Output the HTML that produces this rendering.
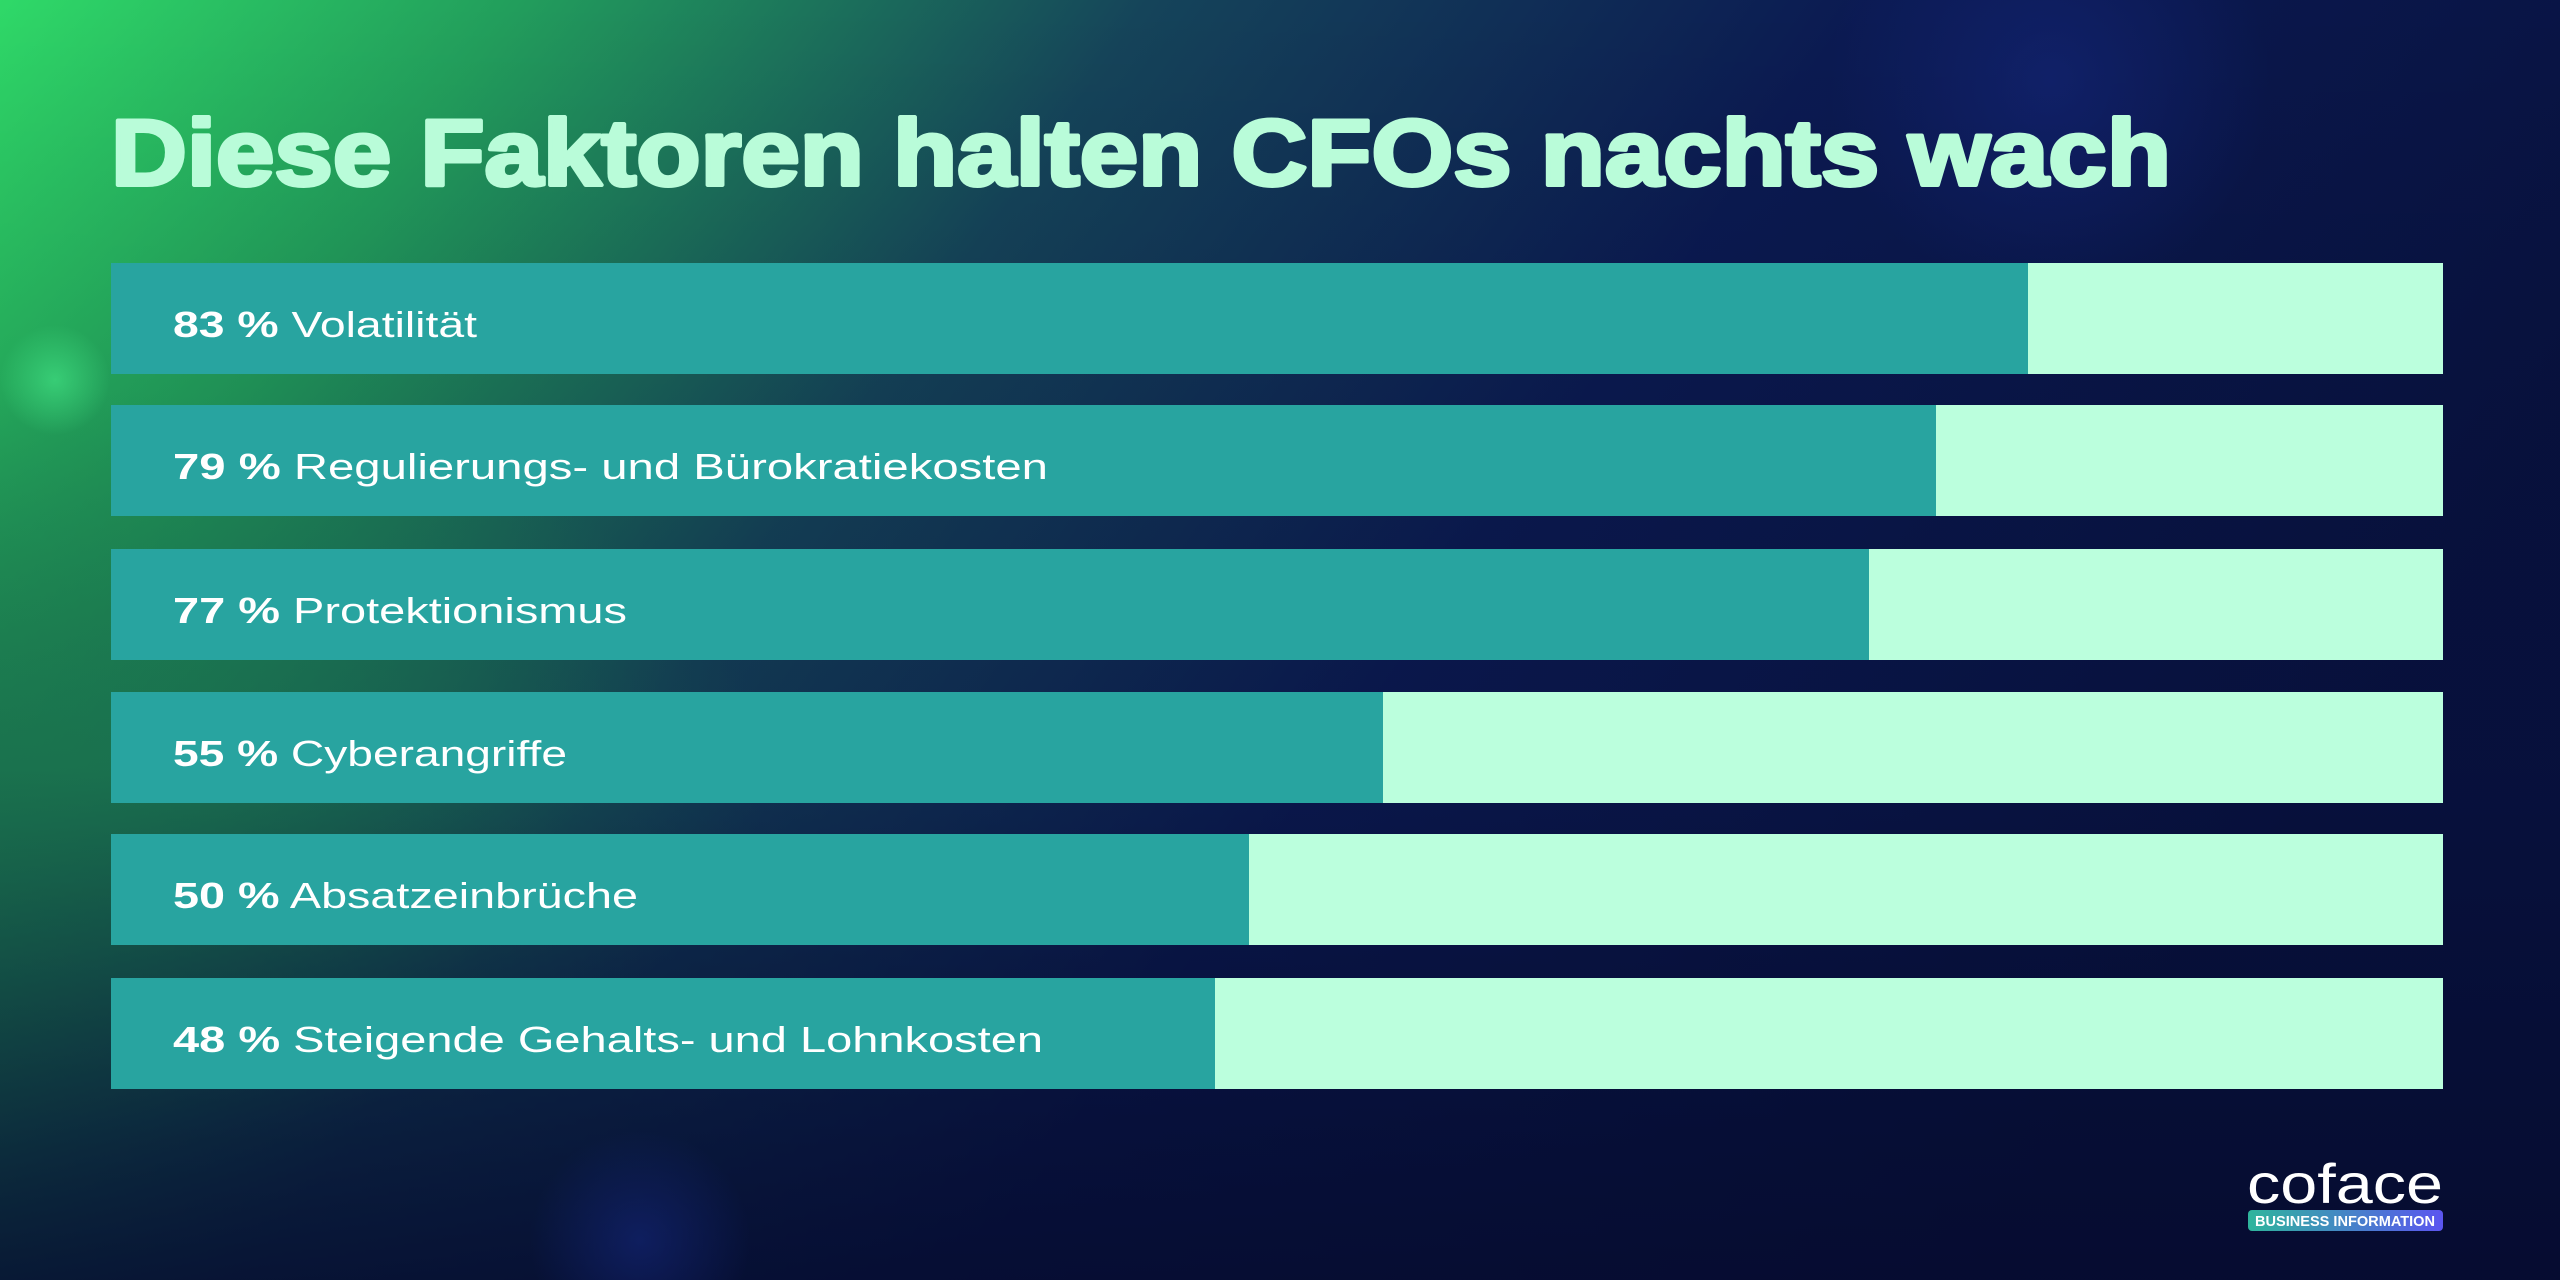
<!DOCTYPE html>
<html><head><meta charset="utf-8"><style>
html,body{margin:0;padding:0;width:2560px;height:1280px;overflow:hidden;background:#0a1440}
svg{display:block;position:absolute;left:0;top:0}
</style></head><body>
<svg width="2560" height="1280" viewBox="0 0 2560 1280" xmlns="http://www.w3.org/2000/svg">
<defs>
<linearGradient id="bg" x1="0" y1="0" x2="1" y2="0.35">
<stop offset="0" stop-color="#2fd968"/>
<stop offset="0.18" stop-color="#229e5c"/>
<stop offset="0.4" stop-color="#15445a"/>
<stop offset="0.65" stop-color="#0b1a52"/>
<stop offset="1" stop-color="#081240"/>
</linearGradient>
<linearGradient id="vb" x1="0" y1="0" x2="0" y2="1">
<stop offset="0" stop-color="#000" stop-opacity="0"/>
<stop offset="0.6" stop-color="#050b2e" stop-opacity="0.2"/>
<stop offset="1" stop-color="#050b2e" stop-opacity="0.85"/>
</linearGradient>
<radialGradient id="gl" cx="0" cy="0.6" r="0.3">
<stop offset="0" stop-color="#1f8a55" stop-opacity="0.9"/>
<stop offset="1" stop-color="#1f8a55" stop-opacity="0"/>
</radialGradient>
<radialGradient id="bl" cx="0.5" cy="0.5" r="0.5">
<stop offset="0" stop-color="#14267a" stop-opacity="0.6"/>
<stop offset="1" stop-color="#14267a" stop-opacity="0"/>
</radialGradient>
<radialGradient id="gc" cx="0.5" cy="0.5" r="0.5">
<stop offset="0" stop-color="#45e888" stop-opacity="0.6"/>
<stop offset="1" stop-color="#45e888" stop-opacity="0"/>
</radialGradient>
<linearGradient id="badge" x1="0" y1="0" x2="1" y2="0">
<stop offset="0" stop-color="#2fb59c"/>
<stop offset="1" stop-color="#5b55f0"/>
</linearGradient>
</defs>
<rect width="2560" height="1280" fill="url(#bg)"/>
<rect width="2560" height="1280" fill="url(#gl)"/>
<rect width="2560" height="1280" fill="url(#vb)"/>
<circle cx="2050" cy="80" r="220" fill="url(#bl)"/>
<circle cx="640" cy="1240" r="110" fill="url(#bl)"/>
<circle cx="55" cy="380" r="55" fill="url(#gc)"/>

<text x="111" y="185" font-family="Liberation Sans, sans-serif" font-weight="bold" font-size="94" fill="#b9fcd9" stroke="#b9fcd9" stroke-width="4" stroke-linejoin="round" textLength="2060" lengthAdjust="spacingAndGlyphs">Diese Faktoren halten CFOs nachts wach</text>

<g font-family="Liberation Sans, sans-serif" font-size="36" fill="#ffffff">
<rect x="111" y="263" width="2332" height="111" fill="#bbffdd"/><rect x="111" y="263" width="1917" height="111" fill="#28a4a0"/>
<text x="173" y="337" textLength="304" lengthAdjust="spacingAndGlyphs"><tspan font-weight="bold">83 %</tspan> Volatilität</text>
<rect x="111" y="405" width="2332" height="111" fill="#bbffdd"/><rect x="111" y="405" width="1825" height="111" fill="#28a4a0"/>
<text x="173" y="479" textLength="875" lengthAdjust="spacingAndGlyphs"><tspan font-weight="bold">79 %</tspan> Regulierungs- und Bürokratiekosten</text>
<rect x="111" y="549" width="2332" height="111" fill="#bbffdd"/><rect x="111" y="549" width="1758" height="111" fill="#28a4a0"/>
<text x="173" y="623" textLength="454" lengthAdjust="spacingAndGlyphs"><tspan font-weight="bold">77 %</tspan> Protektionismus</text>
<rect x="111" y="692" width="2332" height="111" fill="#bbffdd"/><rect x="111" y="692" width="1272" height="111" fill="#28a4a0"/>
<text x="173" y="766" textLength="394" lengthAdjust="spacingAndGlyphs"><tspan font-weight="bold">55 %</tspan> Cyberangriffe</text>
<rect x="111" y="834" width="2332" height="111" fill="#bbffdd"/><rect x="111" y="834" width="1138" height="111" fill="#28a4a0"/>
<text x="173" y="908" textLength="465" lengthAdjust="spacingAndGlyphs"><tspan font-weight="bold">50 %</tspan> Absatzeinbrüche</text>
<rect x="111" y="978" width="2332" height="111" fill="#bbffdd"/><rect x="111" y="978" width="1104" height="111" fill="#28a4a0"/>
<text x="173" y="1052" textLength="870" lengthAdjust="spacingAndGlyphs"><tspan font-weight="bold">48 %</tspan> Steigende Gehalts- und Lohnkosten</text>
</g>

<text x="2247" y="1203" font-family="Liberation Sans, sans-serif" font-size="56" fill="#ffffff" textLength="196" lengthAdjust="spacingAndGlyphs">coface</text>
<rect x="2248" y="1210" width="195" height="21" rx="4" fill="url(#badge)"/>
<text x="2345" y="1226" text-anchor="middle" font-family="Liberation Sans, sans-serif" font-weight="bold" font-size="15" fill="#ffffff" textLength="180" lengthAdjust="spacingAndGlyphs">BUSINESS INFORMATION</text>
</svg>
</body></html>
